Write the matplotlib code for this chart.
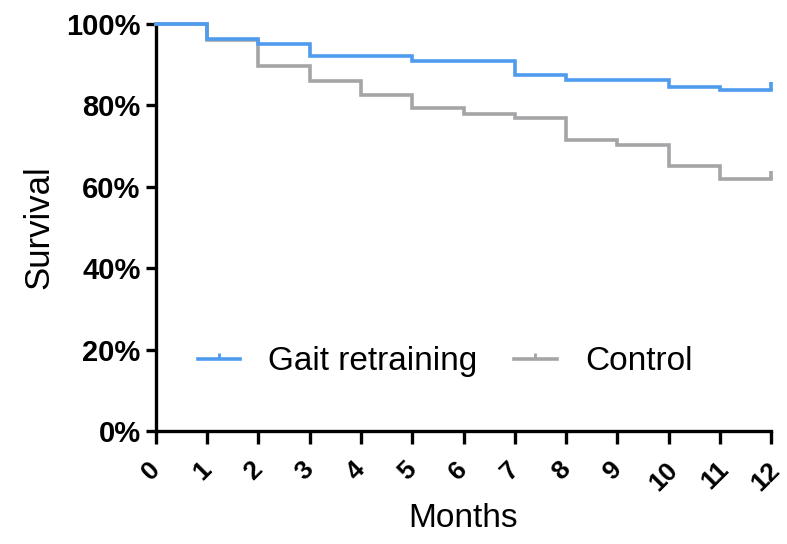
import matplotlib
matplotlib.use("Agg")
import matplotlib.pyplot as plt
import matplotlib.transforms as mtransforms
from matplotlib.path import Path
from matplotlib.lines import Line2D
from matplotlib.ticker import FuncFormatter

plt.rcParams['font.family'] = ['Liberation Sans', 'DejaVu Sans']

# Kaplan-Meier step values (survival %, value held from each month onward)
months = [0, 1, 2, 3, 4, 5, 6, 7, 8, 9, 10, 11, 12]
gait_retraining = [100, 96.3, 95.2, 92.1, 92.1, 91.0, 91.0, 87.4, 86.2, 86.2, 84.5, 83.7, 83.7]
control = [100, 96.0, 89.8, 85.9, 82.5, 79.3, 78.0, 76.8, 71.6, 70.2, 65.0, 61.8, 61.8]

series_names = ["Gait retraining", "Control"]
series_colors = ["#4f9bee", "#a5a5a8"]

x_ticks = list(range(0, 13))
y_ticks = [0, 20, 40, 60, 80, 100]

# censor tick: a short upward stroke
censor = Path([(0, 0), (0, 1)], [Path.MOVETO, Path.LINETO])

fig = plt.figure(figsize=(7.87, 5.44), dpi=100)
ax = fig.add_axes([0.198, 0.2077, 0.782, 0.7482])

for vals, color in [(control, series_colors[1]), (gait_retraining, series_colors[0])]:
    ax.step(months, vals, where="post", color=color, lw=2.6, clip_on=False,
            solid_joinstyle="miter", zorder=3)
    ax.plot([months[-1]], [vals[-1]], marker=censor, markersize=11,
            markeredgewidth=2.6, color=color, clip_on=False, zorder=3, ls="none")

ax.set_xlim(0, 12)
ax.set_ylim(0, 100)
ax.set_xticks(x_ticks)
ax.set_yticks(y_ticks)
ax.yaxis.set_major_formatter(FuncFormatter(lambda v, p: f"{int(v)}%"))

for s in ["top", "right"]:
    ax.spines[s].set_visible(False)
for s in ["left", "bottom"]:
    ax.spines[s].set_linewidth(2.4)
    ax.spines[s].set_color("black")

ax.tick_params(axis="x", length=9, width=2.4, direction="out", pad=10)
ax.tick_params(axis="y", length=7, width=2.4, direction="out", pad=4)

# rotated month labels sit slightly left of their ticks
shift = mtransforms.ScaledTranslation(-5 / 100, 0, fig.dpi_scale_trans)
for lbl in ax.get_xticklabels():
    lbl.set_rotation(45)
    lbl.set_ha("center")
    lbl.set_fontsize(19)
    lbl.set_fontweight("bold")
    lbl.set_transform(lbl.get_transform() + shift)
for lbl in ax.get_yticklabels():
    lbl.set_fontsize(21)
    lbl.set_fontweight("bold")

ax.set_xlabel("Months", fontsize=24, labelpad=6)
ax.set_ylabel("Survival", fontsize=25, labelpad=8)

handles = [
    Line2D([0], [0], color=c, lw=2.6, marker=censor, markersize=9,
           markeredgewidth=2.0)
    for c in series_colors
]
ax.legend(handles, series_names, ncol=2, frameon=False, fontsize=24,
          loc="center left", bbox_to_anchor=(0.068, 0.17),
          borderaxespad=0, borderpad=0,
          handlelength=1.27, handletextpad=0.85, columnspacing=1.1, numpoints=1)

fig.savefig("out.png", dpi=100)
